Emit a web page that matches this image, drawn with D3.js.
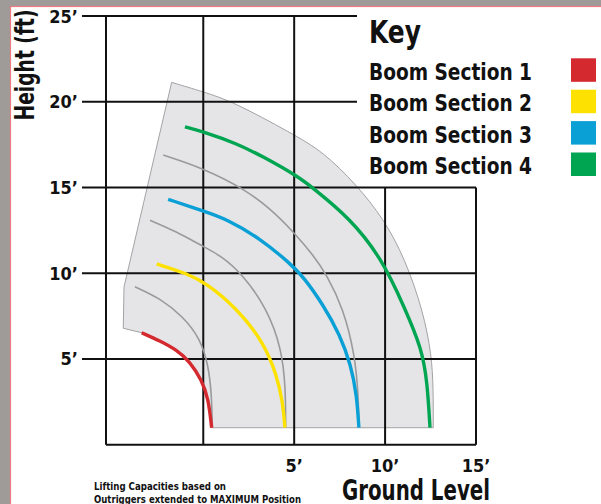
<!DOCTYPE html>
<html lang="en">
<head>
  <meta charset="UTF-8">
  <title>Working Envelope</title>
  <style>
    body { margin: 0; padding: 0; background: #9e9b98; }
    svg { display: block; }
    text { font-family: "Liberation Sans Narrow", "Arial Narrow", "DejaVu Sans Condensed", sans-serif; font-weight: bold; fill: #111; }
  </style>
  <script src="https://d3js.org/d3.v7.min.js"></script>
</head>
<body>
  <svg width="601" height="504"></svg>
  <script>
    // tick values and labels
    const xTicks = [5, 10, 15];
    const yTicks = [5, 10, 15, 20, 25];
    const gridX = [0, 5, 10, 15];          // vertical grid lines (ft)

    // legend
    const sections = ["Boom Section 1", "Boom Section 2", "Boom Section 3", "Boom Section 4"];
    const sectionColors = ["#d42a2f", "#fde100", "#0aa0d6", "#00a551"];

    // boom reach curves, [x ft, y ft]
    const section1 = [[-3.39, 6.53], [-2.38, 6.05], [-1.46, 5.52], [-0.73, 4.84], [-0.09, 3.77], [0.28, 2.71], [0.46, 0.99]];
    const section2 = [[-2.56, 10.54], [-0.91, 9.99], [0.19, 9.41], [1.84, 7.95], [3.30, 6.01], [4.04, 4.06], [4.37, 2.51], [4.49, 0.99]];
    const section3 = [[-1.93, 14.31], [0, 13.63], [1.29, 13.16], [3.12, 12.03], [4.77, 10.58], [5.50, 9.80], [6.60, 8.15], [7.52, 6.40], [8.12, 4.65], [8.44, 2.90], [8.56, 0.99]];
    const section4 = [[-1.01, 18.54], [0, 18.25], [1.84, 17.57], [3.30, 16.79], [5.23, 15.63], [6.05, 14.95], [8.07, 13.20], [9.81, 10.87], [11.09, 7.95], [12.01, 5.62], [12.32, 3.67], [12.47, 0.99]];

    // grey in-between curves
    const grey1 = [[-3.76, 9.21], [-2.38, 8.54], [-1.10, 7.46], [-0.18, 6.20], [0.28, 4.65], [0.46, 2.90], [0.50, 0.99]];
    const grey2 = [[-2.93, 13.09], [-1.46, 12.42], [0, 11.55], [0.92, 11.06], [2.20, 9.90], [3.49, 7.95], [4.31, 5.62], [4.53, 3.29], [4.53, 0.99]];
    const grey3 = [[-2.20, 16.89], [0, 16.12], [2.20, 14.95], [3.67, 13.78], [4.95, 12.42], [6.05, 11.06], [6.79, 9.90], [7.70, 7.95], [8.34, 5.23], [8.53, 2.90], [8.56, 0.99]];

    // outer envelope
    const outerEdge = [[-1.74, 21.13], [0, 20.58], [1.65, 20.0], [4.86, 18.16], [6.60, 17.08], [8.44, 15.14], [9.90, 13.20], [11.09, 10.87], [12.10, 7.76], [12.56, 5.23], [12.65, 3.29], [12.65, 0.99]];
    const leftEdge = [[-4.40, 6.79], [-4.36, 9.19]];

    const svg = d3.select("svg");

    // page backdrop + white panel
    svg.append("rect").attr("width", 601).attr("height", 504).attr("fill", "#9e9b98");
    svg.append("rect").attr("x", 10.5).attr("y", 6.5).attr("width", 620).attr("height", 520)
      .attr("fill", "#fff").attr("stroke", "#ee7b82").attr("stroke-width", 1.2);

    const x = d3.scaleLinear().domain([-5.35, 15]).range([106, 476]);
    const y = d3.scaleLinear().domain([0, 25]).range([444.7, 16]);

    const line = d3.line().x(d => x(d[0])).y(d => y(d[1])).curve(d3.curveBasis);
    const pt = d => `L${x(d[0])},${y(d[1])}`;

    // envelope: outer arc, along the ground, back up section 1, up the left side
    const envD = line(outerEdge)
      + pt(section1[section1.length - 1])
      + line(section1.slice().reverse()).replace(/^M/, "L")
      + leftEdge.map(pt).join("") + "Z";
    svg.append("path").attr("d", envD)
      .attr("fill", "#e5e5e7").attr("stroke", "#a3a3a5").attr("stroke-width", 1);

    // grid
    const grid = svg.append("g").attr("stroke", "#111").attr("stroke-width", 2).attr("fill", "none");
    yTicks.forEach(v => {
      grid.append("line").attr("x1", 82).attr("x2", v >= 20 ? 357 : x(15))
        .attr("y1", y(v)).attr("y2", y(v));
    });
    grid.append("line").attr("x1", x(-5.35)).attr("x2", x(15)).attr("y1", y(0)).attr("y2", y(0));
    grid.append("line").attr("x1", x(-5.35)).attr("x2", x(-5.35)).attr("y1", y(25)).attr("y2", y(0));
    gridX.forEach(v => {
      grid.append("line").attr("x1", x(v)).attr("x2", x(v))
        .attr("y1", v >= 10 ? y(15) : y(25)).attr("y2", y(0));
    });

    // curves
    [grey1, grey2, grey3].forEach(c => {
      svg.append("path").attr("d", line(c)).attr("fill", "none")
        .attr("stroke", "#9a9a9c").attr("stroke-width", 1.6);
    });
    [section1, section2, section3, section4].forEach((c, i) => {
      svg.append("path").attr("d", line(c)).attr("fill", "none")
        .attr("stroke", sectionColors[i]).attr("stroke-width", 3.4).attr("stroke-linecap", "butt");
    });

    // tick labels
    svg.selectAll(".ylab").data(yTicks).enter().append("text")
      .attr("x", 78).attr("y", d => y(d) + 6.5).attr("text-anchor", "end")
      .attr("font-size", 18).text(d => d + "\u2019");
    svg.selectAll(".xlab").data(xTicks).enter().append("text")
      .attr("x", d => x(d)).attr("y", 472).attr("text-anchor", "middle")
      .attr("font-size", 18).text(d => d + "\u2019");

    // axis titles
    svg.append("text").attr("transform", "translate(34,65) rotate(-90)")
      .attr("text-anchor", "middle").attr("font-size", 27)
      .attr("textLength", 111).attr("lengthAdjust", "spacingAndGlyphs").text("Height (ft)");
    svg.append("text").attr("x", 342).attr("y", 500).attr("font-size", 28)
      .attr("textLength", 148).attr("lengthAdjust", "spacingAndGlyphs").text("Ground Level");

    // footnote
    svg.append("text").attr("x", 94).attr("y", 490).attr("font-size", 11)
      .attr("textLength", 132).attr("lengthAdjust", "spacingAndGlyphs").text("Lifting Capacities based on");
    svg.append("text").attr("x", 94).attr("y", 502.5).attr("font-size", 11)
      .attr("textLength", 207).attr("lengthAdjust", "spacingAndGlyphs").text("Outriggers extended to MAXIMUM Position");

    // key
    svg.append("text").attr("x", 369).attr("y", 43).attr("font-size", 32)
      .attr("textLength", 52).attr("lengthAdjust", "spacingAndGlyphs").text("Key");
    const key = svg.selectAll(".key").data(sections).enter().append("g")
      .attr("transform", (d, i) => `translate(0,${58.3 + i * 31.4})`);
    key.append("text").attr("x", 369).attr("y", 21.7).attr("font-size", 23)
      .attr("textLength", 163).attr("lengthAdjust", "spacingAndGlyphs").text(d => d);
    key.append("rect").attr("x", 571).attr("y", 0).attr("width", 25).attr("height", 23.5)
      .attr("fill", (d, i) => sectionColors[i]);
  </script>
</body>
</html>
